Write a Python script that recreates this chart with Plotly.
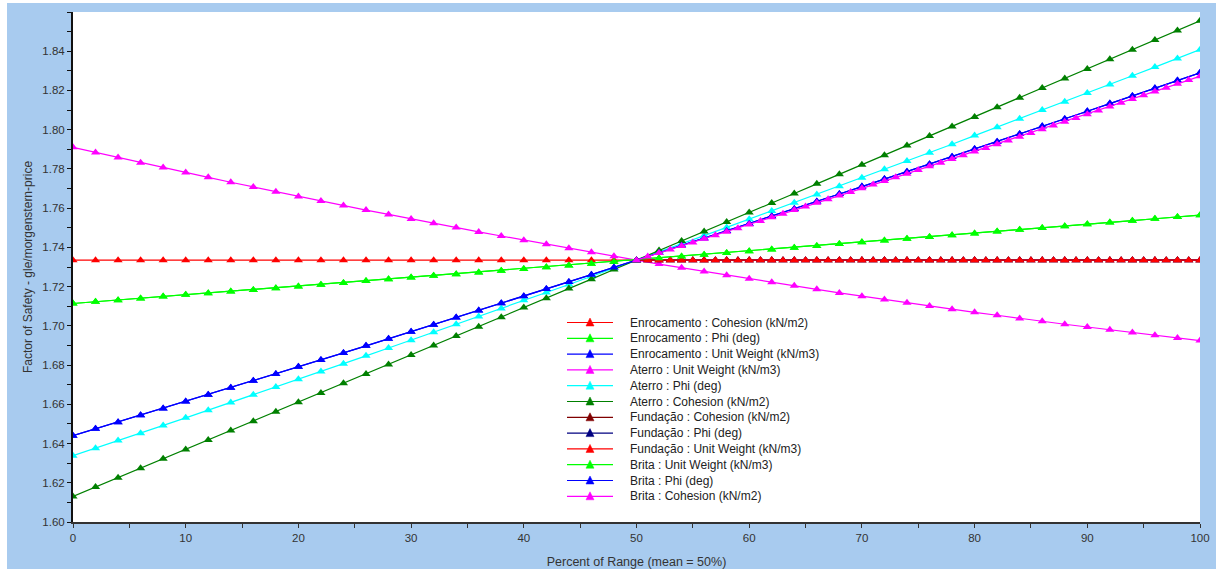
import plotly.graph_objects as go

# ---------------- data ----------------
x_full = list(range(0, 101, 2))
x_half = list(range(50, 101, 1))

mean_fs = 1.7335

flat_full = [mean_fs] * len(x_full)
flat_half = [mean_fs] * len(x_half)

enrocamento_phi = [
    1.7114, 1.7123, 1.7131, 1.7140, 1.7149, 1.7158, 1.7166, 1.7175, 1.7183, 1.7192,
    1.7201, 1.7210, 1.7219, 1.7228, 1.7237, 1.7246, 1.7255, 1.7263, 1.7272, 1.7281,
    1.7290, 1.7299, 1.7308, 1.7317, 1.7326, 1.7335, 1.7344, 1.7353, 1.7362, 1.7371,
    1.7380, 1.7389, 1.7398, 1.7407, 1.7417, 1.7426, 1.7435, 1.7444, 1.7453, 1.7462,
    1.7471, 1.7481, 1.7490, 1.7499, 1.7508, 1.7518, 1.7527, 1.7536, 1.7546, 1.7555,
    1.7564]

enrocamento_unit_weight = [
    1.6440, 1.6475, 1.6509, 1.6544, 1.6579, 1.6614, 1.6649, 1.6685, 1.6720, 1.6755,
    1.6791, 1.6826, 1.6862, 1.6898, 1.6934, 1.6970, 1.7006, 1.7042, 1.7078, 1.7115,
    1.7151, 1.7188, 1.7224, 1.7261, 1.7298, 1.7335, 1.7372, 1.7409, 1.7446, 1.7484,
    1.7521, 1.7559, 1.7596, 1.7634, 1.7672, 1.7710, 1.7748, 1.7786, 1.7824, 1.7862,
    1.7901, 1.7939, 1.7978, 1.8017, 1.8055, 1.8094, 1.8133, 1.8172, 1.8211, 1.8251,
    1.8290]

aterro_unit_weight = [
    1.7910, 1.7884, 1.7858, 1.7832, 1.7807, 1.7782, 1.7757, 1.7732, 1.7708, 1.7684,
    1.7660, 1.7637, 1.7613, 1.7590, 1.7568, 1.7545, 1.7523, 1.7501, 1.7479, 1.7458,
    1.7437, 1.7416, 1.7395, 1.7375, 1.7355, 1.7335, 1.7315, 1.7296, 1.7277, 1.7258,
    1.7240, 1.7222, 1.7204, 1.7186, 1.7168, 1.7151, 1.7134, 1.7118, 1.7101, 1.7085,
    1.7069, 1.7054, 1.7038, 1.7023, 1.7008, 1.6994, 1.6980, 1.6966, 1.6952, 1.6938,
    1.6925]

aterro_phi = [
    1.6338, 1.6376, 1.6415, 1.6453, 1.6492, 1.6531, 1.6570, 1.6609, 1.6649, 1.6688,
    1.6728, 1.6767, 1.6807, 1.6847, 1.6887, 1.6927, 1.6967, 1.7008, 1.7048, 1.7089,
    1.7130, 1.7170, 1.7211, 1.7252, 1.7294, 1.7335, 1.7376, 1.7418, 1.7460, 1.7502,
    1.7544, 1.7586, 1.7628, 1.7670, 1.7712, 1.7755, 1.7798, 1.7840, 1.7883, 1.7926,
    1.7970, 1.8013, 1.8056, 1.8100, 1.8143, 1.8187, 1.8231, 1.8275, 1.8319, 1.8363,
    1.8408]

aterro_cohesion = [
    1.6130, 1.6178, 1.6226, 1.6274, 1.6322, 1.6370, 1.6418, 1.6466, 1.6514, 1.6562,
    1.6610, 1.6658, 1.6707, 1.6755, 1.6803, 1.6851, 1.6900, 1.6948, 1.6996, 1.7044,
    1.7093, 1.7141, 1.7190, 1.7238, 1.7287, 1.7335, 1.7384, 1.7432, 1.7481, 1.7529,
    1.7578, 1.7626, 1.7675, 1.7724, 1.7773, 1.7821, 1.7870, 1.7919, 1.7968, 1.8016,
    1.8065, 1.8114, 1.8163, 1.8212, 1.8261, 1.8310, 1.8359, 1.8408, 1.8457, 1.8506,
    1.8555]

brita_cohesion = [
    1.7335, 1.7353, 1.7371, 1.7389, 1.7407, 1.7425, 1.7444, 1.7462, 1.7480, 1.7498,
    1.7517, 1.7535, 1.7553, 1.7572, 1.7590, 1.7608, 1.7627, 1.7645, 1.7664, 1.7682,
    1.7701, 1.7720, 1.7738, 1.7757, 1.7776, 1.7794, 1.7813, 1.7832, 1.7851, 1.7870,
    1.7889, 1.7907, 1.7926, 1.7945, 1.7964, 1.7983, 1.8002, 1.8022, 1.8041, 1.8060,
    1.8079, 1.8098, 1.8118, 1.8137, 1.8156, 1.8175, 1.8195, 1.8214, 1.8234, 1.8253,
    1.8273]

series = [
    ("Enrocamento : Cohesion (kN/m2)", x_full, flat_full, "#FF0000"),
    ("Enrocamento : Phi (deg)", x_full, enrocamento_phi, "#00FF00"),
    ("Enrocamento : Unit Weight (kN/m3)", x_full, enrocamento_unit_weight, "#0000FF"),
    ("Aterro : Unit Weight (kN/m3)", x_full, aterro_unit_weight, "#FF00FF"),
    ("Aterro : Phi (deg)", x_full, aterro_phi, "#00FFFF"),
    ("Aterro : Cohesion (kN/m2)", x_full, aterro_cohesion, "#008000"),
    ("Fundação : Cohesion (kN/m2)", x_half, flat_half, "#800000"),
    ("Fundação : Phi (deg)", x_half, flat_half, "#000080"),
    ("Fundação : Unit Weight (kN/m3)", x_half, flat_half, "#FF0000"),
    ("Brita : Unit Weight (kN/m3)", x_full, enrocamento_phi, "#00FF00"),
    ("Brita : Phi (deg)", x_full, enrocamento_unit_weight, "#0000FF"),
    ("Brita : Cohesion (kN/m2)", x_half, brita_cohesion, "#FF00FF"),
]

x_ticks = [0, 10, 20, 30, 40, 50, 60, 70, 80, 90, 100]
y_ticks = [1.60, 1.62, 1.64, 1.66, 1.68, 1.70, 1.72, 1.74, 1.76, 1.78, 1.80, 1.82, 1.84]
y_labels = ["1.60", "1.62", "1.64", "1.66", "1.68", "1.70", "1.72", "1.74",
            "1.76", "1.78", "1.80", "1.82", "1.84"]

# ---------------- layout constants ----------------
W, H = 1216, 569
ML, MR, MT, MB = 73, 16, 12, 47
PW, PH = W - ML - MR, H - MT - MB

FONT = "Arial, Liberation Sans, sans-serif"
BG = "#A8CBEF"


def px_x(p):
    return (p - ML) / PW


def px_y(p):
    return (H - MB - p) / PH


# ---------------- figure ----------------
fig = go.Figure()
for name, xs, ys, col in series:
    fig.add_trace(go.Scatter(
        x=xs, y=ys, name=name, mode="lines+markers", showlegend=False,
        line=dict(color=col, width=1.2),
        marker=dict(symbol="triangle-up", size=8, color=col),
    ))

# white page edge (left and top) as in the reference screenshot
shapes = [
    dict(type="rect", xref="paper", yref="paper",
         x0=px_x(-10), x1=px_x(7), y0=px_y(H + 10), y1=px_y(-10),
         fillcolor="white", line=dict(width=0), layer="above"),
    dict(type="rect", xref="paper", yref="paper",
         x0=px_x(-10), x1=px_x(W + 10), y0=px_y(3), y1=px_y(-10),
         fillcolor="white", line=dict(width=0), layer="above"),
]
# legend drawn as layout decorations (16px row spacing like the reference)
annotations = []
LEG_TOP, LEG_STEP = 322.5, 15.8
LINE_X0, LINE_X1, MARK_X, TEXT_X = 567, 613, 590, 628
for i, (name, xs, ys, col) in enumerate(series):
    cy = LEG_TOP + LEG_STEP * i
    shapes.append(dict(type="line", xref="paper", yref="paper",
                       x0=px_x(LINE_X0), x1=px_x(LINE_X1), y0=px_y(cy), y1=px_y(cy),
                       line=dict(color=col, width=1.2), layer="above"))
    tri = "M {:.5f},{:.5f} L {:.5f},{:.5f} L {:.5f},{:.5f} Z".format(
        px_x(MARK_X - 4), px_y(cy + 3.5),
        px_x(MARK_X + 4), px_y(cy + 3.5),
        px_x(MARK_X), px_y(cy - 4.5))
    shapes.append(dict(type="path", xref="paper", yref="paper", path=tri,
                       fillcolor=col, line=dict(color=col, width=0.5), layer="above"))
    annotations.append(dict(xref="paper", yref="paper", x=px_x(TEXT_X), y=px_y(cy),
                            xanchor="left", yanchor="middle", showarrow=False,
                            text=name, font=dict(family=FONT, size=12, color="#222222")))

fig.update_layout(
    width=W, height=H,
    margin=dict(l=ML, r=MR, t=MT, b=MB, autoexpand=False),
    paper_bgcolor=BG,
    plot_bgcolor="white",
    font=dict(family=FONT, size=11, color="#333333"),
    showlegend=False,
    xaxis=dict(
        range=[0, 100], tickmode="array", tickvals=x_ticks, automargin=False,
        ticks="outside", ticklen=4, tickwidth=1, tickcolor="#333333",
        showline=True, linecolor="#333333", linewidth=2,
        showgrid=False, zeroline=False,
        minor=dict(tickmode="linear", tick0=0, dtick=5, ticks="outside",
                   ticklen=4, tickcolor="#333333", showgrid=False),
        title=dict(text="Percent of Range (mean = 50%)", standoff=14,
                   font=dict(size=12.5, color="#333333")),
        tickfont=dict(size=11.5, color="#333333"),
    ),
    yaxis=dict(
        range=[1.60, 1.86], tickmode="array", tickvals=y_ticks, ticktext=y_labels,
        automargin=False,
        ticks="outside", ticklen=4, tickwidth=1, tickcolor="#111111",
        showline=True, linecolor="#111111", linewidth=2,
        showgrid=False, zeroline=False,
        minor=dict(tickmode="linear", tick0=1.60, dtick=0.01, ticks="outside",
                   ticklen=4, tickcolor="#111111", showgrid=False),
        title=dict(text="Factor of Safety - gle/morgenstern-price", standoff=7,
                   font=dict(size=12, color="#333333")),
        tickfont=dict(size=11.5, color="#333333"),
    ),
    shapes=shapes,
    annotations=annotations,
)

fig.write_html(
    "out.html",
    config={"displayModeBar": False},
    post_script="document.body.style.margin='0';document.body.style.overflow='hidden';",
)
